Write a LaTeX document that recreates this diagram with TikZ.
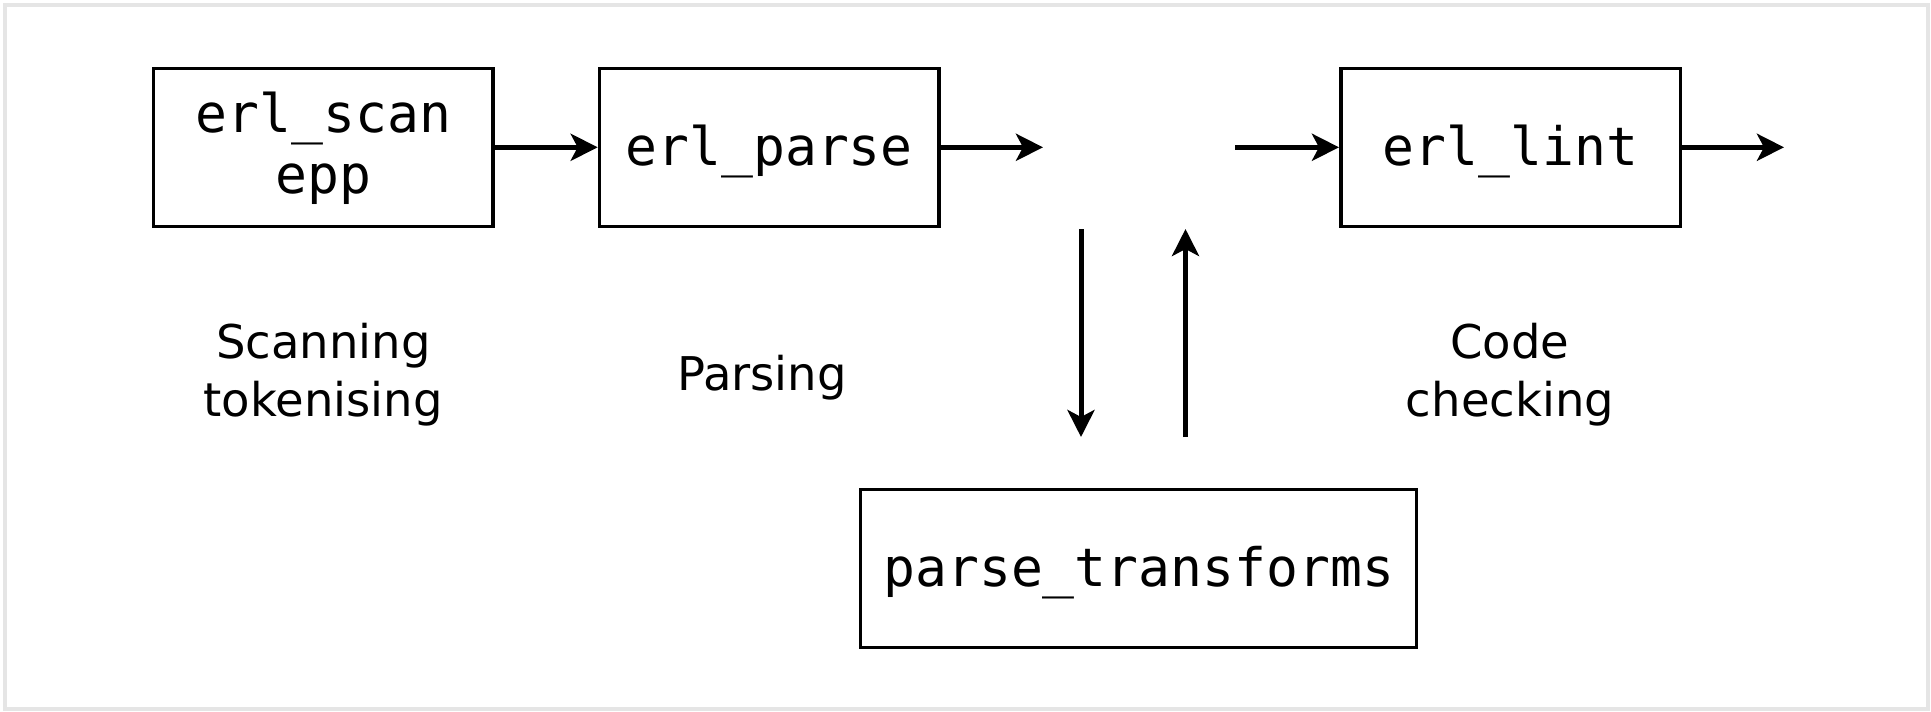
\documentclass[tikz,border=0pt]{standalone}
\usepackage{fontspec}
\setmainfont{DejaVu Sans}
\setmonofont{DejaVu Sans Mono}
\usetikzlibrary{arrows.meta}
\tikzset{
  box/.style={draw=black, line width=3.5pt, minimum width=339.5pt, minimum height=158pt,
    inner sep=0pt, font=\ttfamily\fontsize{53}{60.5}\selectfont, align=center},
  oneline/.style={text height=50pt, text depth=13pt},
  twoline/.style={text height=104pt, text depth=12pt},
  arr/.style={line width=5pt, -{Stealth[length=27pt, width=27pt, inset=7pt]}},
  lbl/.style={font=\fontsize{46.5}{57.5}\selectfont, align=center, anchor=base, inner sep=0pt},
  frame/.style={draw=gray!20, line width=4pt}
}
\begin{document}
\begin{tikzpicture}[x=1pt, y=-1pt]
\useasboundingbox (0,0) rectangle (1931,712);
\draw[frame] (5.3,5.3) rectangle (1928.3,709);

\node[box, twoline] (scan) at (323.3,147.3) {erl\_scan\\epp};
\node[box, oneline] (parse) at (769.2,147.3) {erl\_parse};
\node[box, oneline] (lint) at (1510.5,147.3) {erl\_lint};
\node[box, oneline, minimum width=556pt] (pt) at (1138.7,568.3) {parse\_transforms};

\coordinate (p1) at (1043,147.3);
\coordinate (p2) at (1235,147.3);
\coordinate (p3) at (1784,147.3);
\coordinate (d1) at (1081,229);
\coordinate (d2) at (1081,437);
\coordinate (u1) at (1185.5,437);
\coordinate (u2) at (1185.5,229);

\draw[arr] (scan.east) -- (parse.west);
\draw[arr] (parse.east) -- (p1);
\draw[arr] (p2) -- (lint.west);
\draw[arr] (lint.east) -- (p3);
\draw[arr] (d1) -- (d2);
\draw[arr] (u1) -- (u2);

\node[lbl] (l1) at (323.3,416) {Scanning\\tokenising};
\node[lbl] (l2) at (762,390) {Parsing};
\node[lbl] (l3) at (1510,416) {Code\\checking};
\end{tikzpicture}
\end{document}
